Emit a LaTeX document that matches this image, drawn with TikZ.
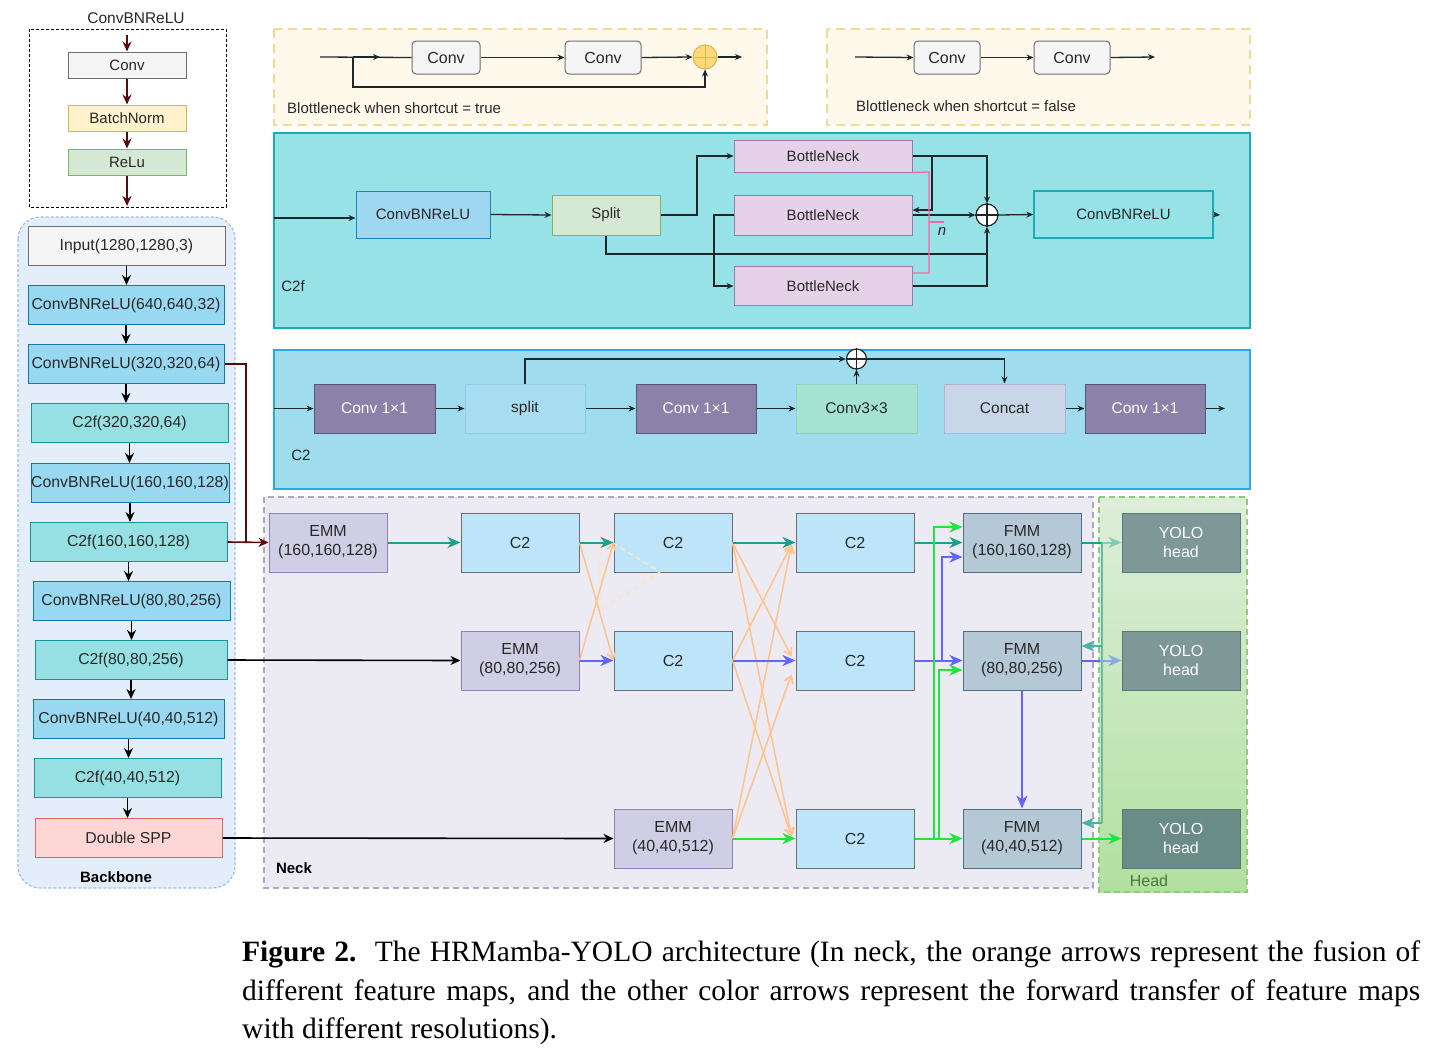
\documentclass[tikz,border=0pt]{standalone}
\usepackage{fontspec}
\setmainfont{Liberation Sans}
\newfontfamily\capfont{Liberation Serif}
\usetikzlibrary{arrows.meta,calc}
\definecolor{txt}{RGB}{40,40,40}
\definecolor{gfill}{RGB}{245,245,245}
\definecolor{ggray}{RGB}{110,110,110}
\definecolor{bnfill}{RGB}{255,242,204}
\definecolor{bndraw}{RGB}{214,182,86}
\definecolor{rlfill}{RGB}{213,232,212}
\definecolor{rldraw}{RGB}{130,179,102}
\definecolor{dred}{RGB}{90,10,10}
\definecolor{bbfill}{RGB}{228,238,250}
\definecolor{bbdraw}{RGB}{160,190,230}
\definecolor{cbfill}{RGB}{152,216,240}
\definecolor{cbdraw}{RGB}{20,120,170}
\definecolor{cffill}{RGB}{150,224,228}
\definecolor{cfdraw}{RGB}{20,150,160}
\definecolor{sppfill}{RGB}{255,214,214}
\definecolor{sppdraw}{RGB}{224,102,102}
\definecolor{btfill}{RGB}{255,249,236}
\definecolor{btdraw}{RGB}{245,215,150}
\definecolor{plfill}{RGB}{255,217,120}
\definecolor{pldraw}{RGB}{214,182,86}
\definecolor{c2fbg}{RGB}{150,226,230}
\definecolor{c2fbd}{RGB}{30,170,180}
\definecolor{icbfill}{RGB}{160,215,240}
\definecolor{icbdraw}{RGB}{30,130,190}
\definecolor{bnkfill}{RGB}{230,210,232}
\definecolor{bnkdraw}{RGB}{160,120,170}
\definecolor{lk}{RGB}{30,40,40}
\definecolor{pink}{RGB}{255,100,170}
\definecolor{c2bg}{RGB}{158,220,238}
\definecolor{c2bd}{RGB}{40,170,220}
\definecolor{k1fill}{RGB}{138,130,168}
\definecolor{k1draw}{RGB}{90,85,120}
\definecolor{spfill}{RGB}{168,220,240}
\definecolor{spdraw}{RGB}{140,205,230}
\definecolor{k3fill}{RGB}{166,226,210}
\definecolor{k3draw}{RGB}{140,210,190}
\definecolor{catfill}{RGB}{200,214,232}
\definecolor{catdraw}{RGB}{185,175,215}
\definecolor{neckbg}{RGB}{236,234,243}
\definecolor{neckbd}{RGB}{170,170,190}
\definecolor{headbd}{RGB}{140,205,120}
\definecolor{headtop}{RGB}{222,238,218}
\definecolor{headbot}{RGB}{178,224,160}
\definecolor{emmfill}{RGB}{208,206,228}
\definecolor{emmdraw}{RGB}{140,130,180}
\definecolor{nc2fill}{RGB}{190,228,250}
\definecolor{fmmfill}{RGB}{180,200,214}
\definecolor{fmmdraw}{RGB}{80,110,130}
\definecolor{yofill}{RGB}{125,152,150}
\definecolor{yofillb}{RGB}{105,140,135}
\definecolor{yodraw}{RGB}{90,120,120}
\definecolor{teal}{RGB}{30,160,140}
\definecolor{teall}{RGB}{130,205,185}
\definecolor{bluea}{RGB}{100,100,255}
\definecolor{bluel}{RGB}{140,165,230}
\definecolor{greena}{RGB}{30,230,60}
\definecolor{orng}{RGB}{255,195,140}
\definecolor{orngl}{RGB}{255,228,195}
\definecolor{headtxt}{RGB}{70,120,60}
\begin{document}
\begin{tikzpicture}[x=1pt,y=-1pt,
  box/.style={draw, line width=1pt, inner sep=0pt, text=txt, align=center, font=\fontsize{15}{18}\selectfont},
  lg/.style={box, minimum width=118pt, minimum height=26pt},
  bbn/.style={box, minimum height=39pt, font=\fontsize{15.8}{18}\selectfont},
  cbn/.style={bbn, fill=cbfill, draw=cbdraw},
  cfn/.style={bbn, fill=cffill, draw=cfdraw},
  tcv/.style={box, rounded corners=4pt, fill=gfill, draw=ggray, minimum height=33pt, font=\fontsize{16}{18}\selectfont},
  bnk/.style={box, fill=bnkfill, draw=bnkdraw, minimum width=178pt},
  kv/.style={box, minimum width=121pt, minimum height=49pt, font=\fontsize{15.5}{18}\selectfont},
  nk/.style={box, minimum width=118pt, minimum height=59pt, font=\fontsize{16}{19}\selectfont},
  emm/.style={nk, fill=emmfill, draw=emmdraw},
  nc/.style={nk, fill=nc2fill, draw=ggray},
  fmm/.style={nk, fill=fmmfill, draw=fmmdraw},
  yolo/.style={nk, draw=yodraw, text=white},
  plus/.style={circle, draw, minimum size=#1, inner sep=0pt},
  ra/.style={draw=dred, line width=1.6pt, -{Stealth[length=10pt,width=9pt]}},
  blk/.style={draw=black, line width=1.6pt, -{Stealth[length=10pt,width=9pt]}},
  lka/.style={draw=lk, line width=1.3pt, -{Stealth[length=7pt,width=6pt]}},
  lkl/.style={draw=lk, line width=1.3pt},
  na/.style={line width=2pt, -{Stealth[length=13pt,width=11pt,inset=4pt]}},
  nl/.style={line width=2pt},
  oa/.style={draw=orng, line width=1.5pt, -{Straight Barb[length=7pt,width=9pt]}},
  lbl/.style={text=txt, inner sep=0pt, font=\fontsize{15}{18}\selectfont}
]
\useasboundingbox (0,0) rectangle (1434,1063);
\fill[white] (0,0) rectangle (1434,1063);

% ---------- legend ConvBNReLU ----------
\node[lbl, font=\fontsize{15.5}{18}\selectfont] (ltitle) at (136,18) {ConvBNReLU};
\draw[black, line width=1pt, dash pattern=on 3pt off 2pt] (29,29) rectangle (226,207);
\node[lg, fill=gfill, draw=ggray] (lconv) at (127,65) {Conv};
\node[lg, fill=bnfill, draw=bndraw] (lbn) at (127,118) {BatchNorm};
\node[lg, fill=rlfill, draw=rldraw] (lrelu) at (127,162) {ReLu};
\coordinate (ltop) at (127,35);
\coordinate (lbot) at (127,206);
\draw[ra] (ltop) -- (lconv.north);
\draw[ra] (lconv.south) -- (lbn.north);
\draw[ra] (lbn.south) -- (lrelu.north);
\draw[ra] (lrelu.south) -- (lbot);

% ---------- backbone ----------
\draw[bbdraw, fill=bbfill, line width=1.2pt, dash pattern=on 3pt off 2pt, rounded corners=22pt] (18,217) rectangle (235,888);
\node[bbn, fill=gfill, draw=ggray, minimum width=197pt] (b0) at (126.5,246) {Input(1280,1280,3)};
\node[cbn, minimum width=196pt] (b1) at (126,305) {ConvBNReLU(640,640,32)};
\node[cbn, minimum width=196pt] (b2) at (126,364) {ConvBNReLU(320,320,64)};
\node[cfn, minimum width=197pt] (b3) at (129.5,423) {C2f(320,320,64)};
\node[cbn, minimum width=198pt] (b4) at (130,483) {ConvBNReLU(160,160,128)};
\node[cfn, minimum width=197pt] (b5) at (128.5,542) {C2f(160,160,128)};
\node[cbn, minimum width=197pt] (b6) at (131.5,601) {ConvBNReLU(80,80,256)};
\node[cfn, minimum width=192pt] (b7) at (131,660) {C2f(80,80,256)};
\node[cbn, minimum width=191pt] (b8) at (128.5,719) {ConvBNReLU(40,40,512)};
\node[cfn, minimum width=187pt] (b9) at (127.5,778) {C2f(40,40,512)};
\node[bbn, fill=sppfill, draw=sppdraw, minimum width=187pt] (b10) at (128.5,838) {Double SPP};
\node[lbl, font=\bfseries\fontsize{15}{18}\selectfont, text=black] (bbl) at (116,877) {Backbone};
\foreach \a/\b in {b0/b1,b1/b2,b2/b3,b3/b4,b4/b5,b5/b6,b6/b7,b7/b8,b8/b9,b9/b10}{
  \draw[blk] (\a.south) -- (\a.south |- \b.north);
}

% ---------- bottleneck true ----------
\draw[btdraw, fill=btfill, line width=2.5pt, dash pattern=on 9pt off 6pt] (274,29) rectangle (767,125);
\node[tcv, minimum width=68pt] (tc1) at (446,57.5) {Conv};
\node[tcv, minimum width=76pt] (tc2) at (603,57.5) {Conv};
\node[plus=24pt, fill=plfill, draw=pldraw, line width=1pt] (tp) at (705,57) {};
\draw[pldraw, line width=1pt] (tp.north) -- (tp.south) (tp.west) -- (tp.east);
\coordinate (tin) at (320,57);
\coordinate (tbr) at (353,57);
\coordinate (tmid) at (380,57);
\coordinate (tout) at (742,57);
\draw[lkl] (tin) -- (tc1.west);
\draw[lka] (tbr) -- (tmid);
\draw[lka] (tc1.east) -- (tc2.west);
\draw[lka] (tc2.east) -- (tp.west);
\draw[lka] (tp.east) -- (tout);
\draw[lka] (tbr) -- ++(0,30) -| (tp.south);
\node[lbl, anchor=west] (tlab) at (287,108) {Blottleneck when shortcut = true};

% ---------- bottleneck false ----------
\draw[btdraw, fill=btfill, line width=2.5pt, dash pattern=on 9pt off 6pt] (827,29) rectangle (1250,125);
\node[tcv, minimum width=66pt] (fc1) at (947,57.5) {Conv};
\node[tcv, minimum width=76pt] (fc2) at (1072,57.5) {Conv};
\coordinate (fin) at (855,57);
\coordinate (fout) at (1155,57);
\draw[lka] (fin) -- (fc1.west);
\draw[lka] (fc1.east) -- (fc2.west);
\draw[lka] (fc2.east) -- (fout);
\node[lbl, anchor=west] (flab) at (856,106) {Blottleneck when shortcut = false};

% ---------- C2f ----------
\draw[c2fbd, fill=c2fbg, line width=1.5pt] (274,133) rectangle (1250,328);
\node[box, fill=icbfill, draw=icbdraw, minimum width=134pt, minimum height=47pt] (cb1) at (423,214.5) {ConvBNReLU};
\node[box, fill=rlfill, draw=rldraw, minimum width=108pt, minimum height=40pt] (spl) at (606,215) {Split};
\node[bnk, minimum height=32pt] (bn1) at (823,156) {BottleNeck};
\node[bnk, minimum height=40pt] (bn2) at (823,215) {BottleNeck};
\node[bnk, minimum height=39pt] (bn3) at (823,286) {BottleNeck};
\node[plus=22pt, fill=white, draw=lk, line width=1.2pt] (cp) at (987,215) {};
\draw[lk, line width=1.2pt] (cp.north) -- (cp.south) (cp.west) -- (cp.east);
\node[box, draw=c2fbd, minimum width=179pt, minimum height=47pt, line width=1.5pt] (cb2) at (1123.5,214.5) {ConvBNReLU};
\coordinate (cin) at (274,218);
\coordinate (cout) at (1220,215);
\draw[lka] (cin) -- (cb1.west |- cin);
\draw[lka] (cb1.east) -- (spl.west);
\draw[lka] (spl.east) -- (697,215) |- (bn1.west);
\draw[lka] (bn1.east) -| (cp.north);
\draw[lka] (932,156) -- (932,210) -- (bn2.east |- 932,210);
\draw[lka] (bn2.east) -- (cp.west);
\draw[lka] (bn2.west) -- (714,215) |- (bn3.west);
\draw[lka] (spl.south) -- (606,254) -| (cp.south);
\draw[lkl] (bn3.east) -| (987,254);
\draw[lka] (cp.east) -- (cb2.west);
\draw[lka] (cb2.east) -- (cout);
\draw[pink, line width=1.3pt] (bn1.south east) -- (929,172) -- (929,273) -- (bn3.east |- 929,273);
\draw[pink, line width=1.3pt] (929,222) -- (944,222);
\node[lbl, font=\itshape\fontsize{15}{18}\selectfont] (nn) at (942,231) {n};
\node[lbl] (c2flab) at (293,286) {C2f};

% ---------- C2 ----------
\draw[c2bd, fill=c2bg, line width=1.5pt] (274,350) rectangle (1250,489);
\node[kv, fill=k1fill, draw=k1draw, text=white] (k1) at (374.5,408.5) {Conv 1×1};
\node[kv, fill=spfill, draw=spdraw, minimum width=120pt] (sp) at (525,408.5) {split};
\node[kv, fill=k1fill, draw=k1draw, text=white, minimum width=120pt] (k2) at (696,408.5) {Conv 1×1};
\node[kv, fill=k3fill, draw=k3draw] (k33) at (856.5,408.5) {Conv3×3};
\node[kv, fill=catfill, draw=catdraw] (cat) at (1004.5,408.5) {Concat};
\node[kv, fill=k1fill, draw=k1draw, text=white, minimum width=120pt] (k3) at (1145,408.5) {Conv 1×1};
\node[plus=20pt, fill=white, draw=lk, line width=1.2pt] (c2p) at (856.5,359) {};
\draw[lk, line width=1.2pt] (c2p.north) -- (c2p.south) (c2p.west) -- (c2p.east);
\coordinate (c2in) at (274,408.5);
\coordinate (c2out) at (1225,408.5);
\draw[lka] (c2in) -- (k1.west);
\draw[lka] (k1.east) -- (sp.west);
\draw[lka] (sp.east) -- (k2.west);
\draw[lka] (k2.east) -- (k33.west);
\draw[lka] (cat.east) -- (k3.west);
\draw[lka] (k3.east) -- (c2out);
\draw[lka] (sp.north) |- (c2p.west);
\draw[lka] (k33.north) -- (c2p.south);
\draw[lka] (c2p.east) -| (cat.north);
\node[lbl] (c2lab) at (301,455) {C2};

% ---------- neck & head backgrounds ----------
\draw[neckbd, fill=neckbg, line width=1.5pt, dash pattern=on 6pt off 4pt] (264,497) rectangle (1093,888);
\shade[top color=headtop, bottom color=headbot] (1099,497) rectangle (1247,892);
\draw[headbd, line width=2pt, dash pattern=on 6pt off 4pt] (1099,497) rectangle (1247,892);
\node[lbl, font=\bfseries\fontsize{15}{18}\selectfont, text=black] (necklab) at (294,868) {Neck};
\node[lbl, font=\fontsize{16}{18}\selectfont, text=headtxt] (headlab) at (1149,881) {Head};

% ---------- neck nodes ----------
\node[emm] (emm1) at (328,542.5) {EMM\\(160,160,128)};
\node[nc] (n12) at (520,542.5) {C2};
\node[nc] (n13) at (673,542.5) {C2};
\node[nc] (n14) at (855,542.5) {C2};
\node[fmm] (fmm1) at (1022,542.5) {FMM\\(160,160,128)};
\node[yolo, fill=yofill] (y1) at (1181,542.5) {YOLO\\head};
\node[emm] (emm2) at (520,660.5) {EMM\\(80,80,256)};
\node[nc] (n23) at (673,660.5) {C2};
\node[nc] (n24) at (855,660.5) {C2};
\node[fmm] (fmm2) at (1022,660.5) {FMM\\(80,80,256)};
\node[yolo, fill=yofill] (y2) at (1181,660.5) {YOLO\\head};
\node[emm] (emm3) at (673,838.5) {EMM\\(40,40,512)};
\node[nc] (n34) at (855,838.5) {C2};
\node[fmm] (fmm3) at (1022,838.5) {FMM\\(40,40,512)};
\node[yolo, fill=yofillb] (y3) at (1181,838.5) {YOLO\\head};

% ---------- backbone -> neck ----------
\draw[draw=dred, line width=1.6pt] (b2.east) -| (246,542);
\draw[ra] (b5.east) -- (emm1.west);
\draw[blk] (b7.east) -- (emm2.west);
\draw[blk] (b10.east) -- (emm3.west);

% ---------- orange fusion ----------
\draw[orngl, line width=1.5pt, dash pattern=on 5pt off 4pt] (600,533) -- (600,610) -- (660,572);
\draw[orngl, line width=1.5pt, dash pattern=on 5pt off 4pt] (613,543) -- (660,572);
\draw[oa] (n12.east) -- (n23.west);
\draw[oa] (emm2.east) -- (n13.west);
\draw[oa] (n13.east) -- ($(n24.west)+(-4,-4)$);
\draw[oa] (n13.east) -- ($(n34.west)+(-4,-2)$);
\draw[oa] (n23.east) -- ($(n14.west)+(-4,2)$);
\draw[oa] (n23.east) -- ($(n34.west)+(-4,-2)$);
\draw[oa] (emm3.east) -- ($(n14.west)+(-4,2)$);
\draw[oa] (emm3.east) -- ($(n24.west)+(-4,14)$);

% ---------- teal path ----------
\draw[na, teal] (emm1.east) -- (n12.west);
\draw[na, teal] (n12.east) -- (n13.west);
\draw[na, teal] (n13.east) -- (n14.west);
\draw[na, teal] (n14.east) -- (fmm1.west);
\draw[nl, teal] (fmm1.east) -- (1102,542.5);
\draw[na, teall] (1102,542.5) -- (y1.west);
\draw[teal!70, line width=1.8pt] (1102,542.5) -- (1102,823);
\draw[na, teal!80, line width=1.8pt] (1102,646) -- (fmm2.east |- 1102,646);
\draw[na, teal!80, line width=1.8pt] (1102,823) -- (fmm3.east |- 1102,823);

% ---------- blue path ----------
\draw[na, bluea] (emm2.east) -- (n23.west);
\draw[na, bluea] (n23.east) -- (n24.west);
\draw[na, bluea] (n24.east) -- (fmm2.west);
\draw[na, bluea] (942,660.5) -- (942,557) -- (fmm1.west |- 942,557);
\draw[na, bluea] (fmm2.south) -- (fmm3.north);
\draw[nl, bluea] (fmm2.east) -- (1100,660.5);
\draw[na, bluel] (1100,660.5) -- (y2.west);

% ---------- green path ----------
\draw[na, greena] (emm3.east) -- (n34.west);
\draw[na, greena] (n34.east) -- (fmm3.west);
\draw[na, greena] (934,838.5) -- (934,527) -- (fmm1.west |- 934,527);
\draw[na, greena] (939,838.5) -- (939,670) -- (fmm2.west |- 939,670);
\draw[na, greena] (fmm3.east) -- (y3.west);

% ---------- caption ----------
\node[anchor=north west, inner sep=0pt, text width=1178pt, align=justify, font=\capfont\fontsize{29.5}{38.5}\selectfont] (cap) at (242,941) {\textbf{Figure 2.}\ \ The HRMamba-YOLO architecture (In neck, the orange arrows represent the fusion of\linebreak different feature maps, and the other color arrows represent the forward transfer of feature maps\linebreak with different resolutions).};
\end{tikzpicture}
\end{document}
